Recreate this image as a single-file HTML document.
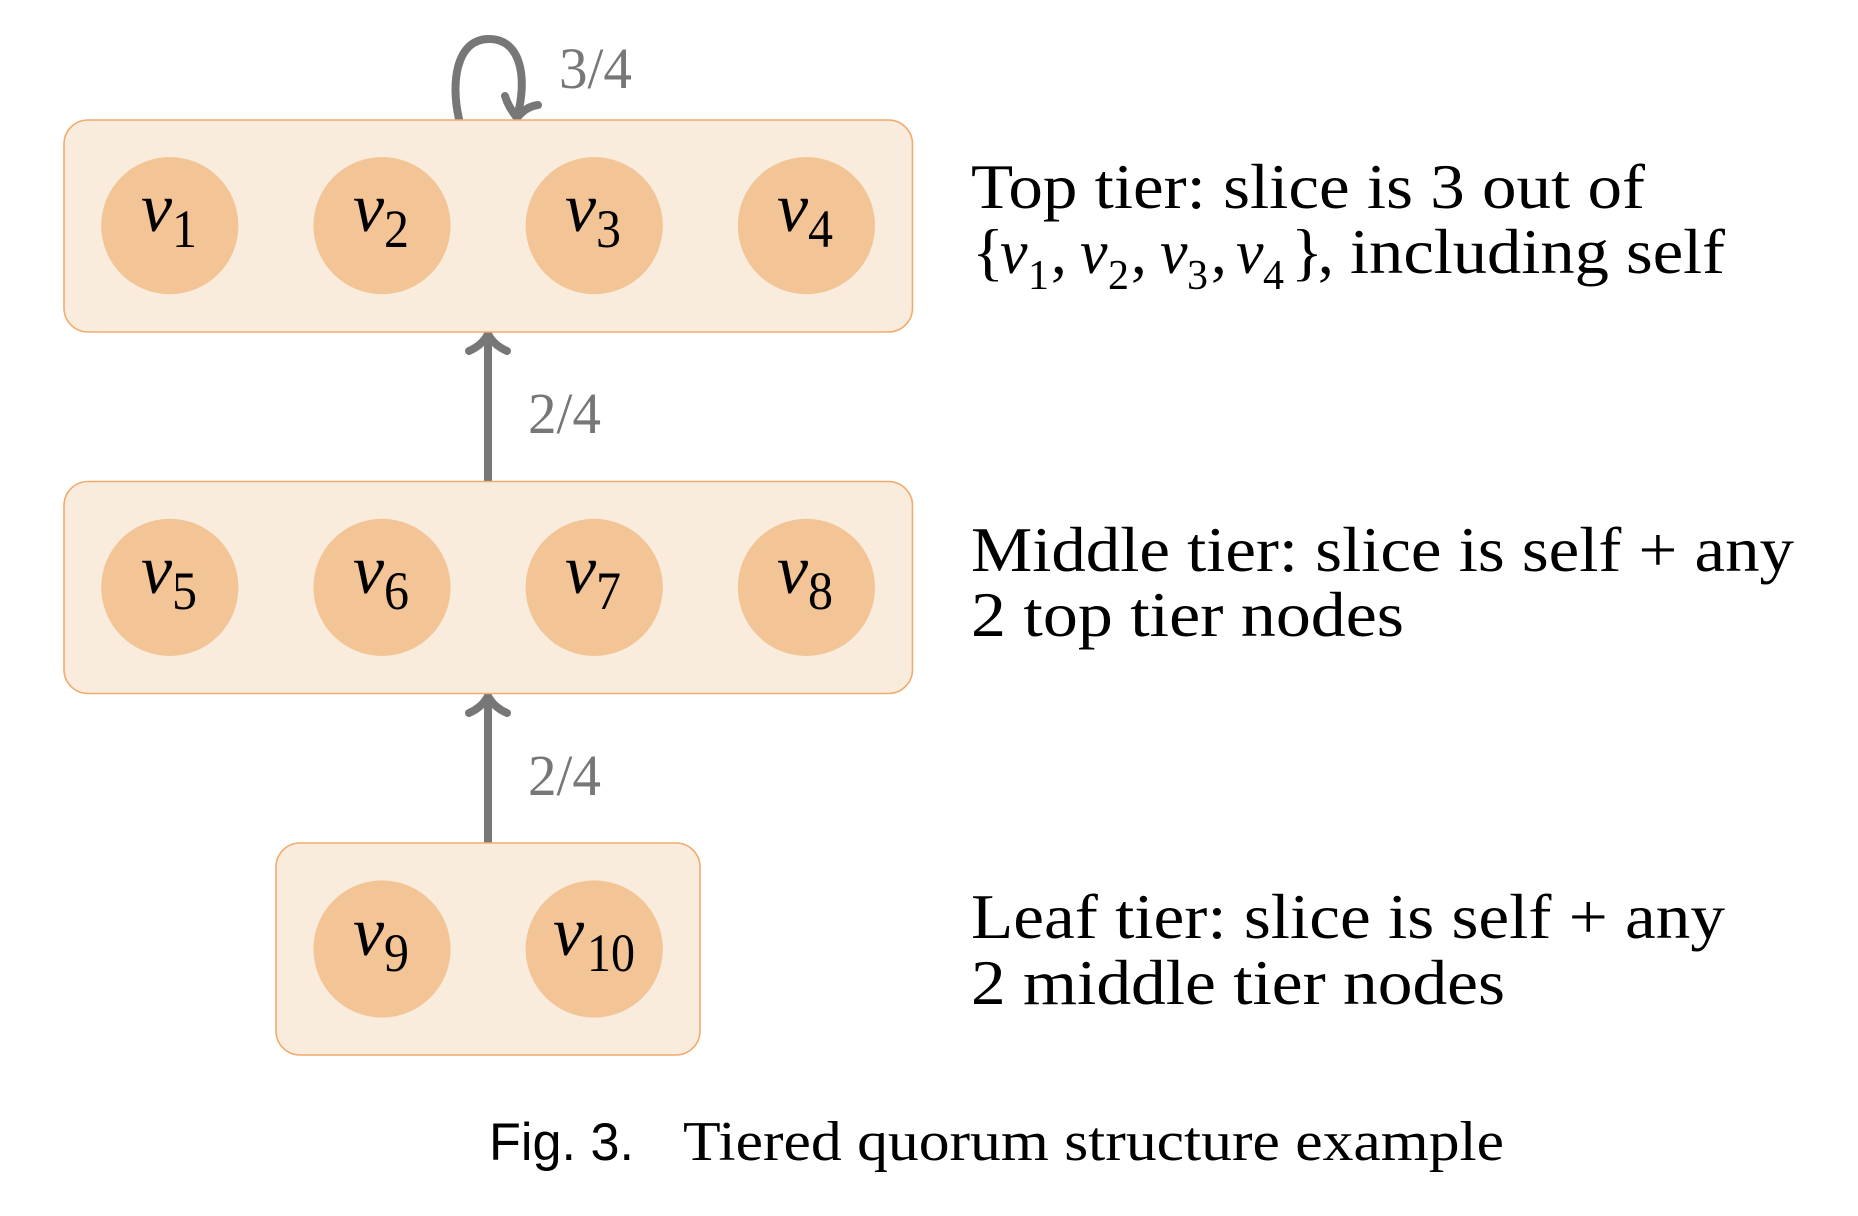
<!DOCTYPE html>
<html lang="en">
<head>
<meta charset="utf-8">
<title>Tiered quorum structure example</title>
<style>
html,body{margin:0;padding:0;background:#fff;}
svg{display:block;}
text{font-family:"Liberation Serif",serif;}
.t{font-size:63px;fill:#000;}
.v{font-size:70px;font-style:italic;fill:#000;}
.s{font-size:54px;fill:#000;}
.mv{font-size:62px;font-style:italic;fill:#000;}
.ms{font-size:42px;fill:#000;}
.l{font-size:58px;fill:#777;}
.box{fill:#f9ecdd;stroke:#f0ab6e;stroke-width:1.6;}
.node{fill:#f2c496;}
.edge{fill:none;stroke:#777;stroke-width:8;stroke-linecap:round;stroke-linejoin:round;}
</style>
</head>
<body>
<svg width="1858" height="1216" viewBox="0 0 1858 1216" xmlns="http://www.w3.org/2000/svg">
<rect width="1858" height="1216" fill="#fff"/>

<g>
<path class="edge" stroke-linecap="butt" d="M459 119 C451 85 455 39 489 39 C523 39 527 82 517 117"/>
<path class="edge" d="M505 96 C508 106 513 112 517 118 C523 110 530 106 538 105"/>
</g>
<text class="l" x="559" y="88" textLength="73" lengthAdjust="spacingAndGlyphs">3/4</text>

<g>
<line class="edge" stroke-linecap="butt" x1="488" y1="481" x2="488" y2="336"/>
<path class="edge" d="M469 351 C478 347 484 342 488 334 C492 342 498 347 507 351"/>
</g>
<text class="l" x="528" y="433" textLength="73" lengthAdjust="spacingAndGlyphs">2/4</text>

<g>
<line class="edge" stroke-linecap="butt" x1="488" y1="843" x2="488" y2="698"/>
<path class="edge" d="M469 713 C478 709 484 704 488 696 C492 704 498 709 507 713"/>
</g>
<text class="l" x="528" y="795" textLength="73" lengthAdjust="spacingAndGlyphs">2/4</text>

<g>
<rect class="box" x="64" y="120" width="848.5" height="212" rx="24" ry="24"/>
<g><circle class="node" cx="169.8" cy="225.6" r="68.6"/><text class="v" x="141" y="231">v</text><text class="s" x="172" y="247" textLength="25" lengthAdjust="spacingAndGlyphs">1</text></g>
<g><circle class="node" cx="382" cy="225.6" r="68.6"/><text class="v" x="353" y="231">v</text><text class="s" x="384" y="247" textLength="25" lengthAdjust="spacingAndGlyphs">2</text></g>
<g><circle class="node" cx="594.2" cy="225.6" r="68.6"/><text class="v" x="565" y="231">v</text><text class="s" x="596" y="247" textLength="25" lengthAdjust="spacingAndGlyphs">3</text></g>
<g><circle class="node" cx="806.4" cy="225.6" r="68.6"/><text class="v" x="777" y="231">v</text><text class="s" x="808" y="247" textLength="25" lengthAdjust="spacingAndGlyphs">4</text></g>
</g>

<g>
<rect class="box" x="64" y="481.5" width="848.5" height="212" rx="24" ry="24"/>
<g><circle class="node" cx="169.8" cy="587.4" r="68.6"/><text class="v" x="141" y="593">v</text><text class="s" x="172" y="609" textLength="25" lengthAdjust="spacingAndGlyphs">5</text></g>
<g><circle class="node" cx="382" cy="587.4" r="68.6"/><text class="v" x="353" y="593">v</text><text class="s" x="384" y="609" textLength="25" lengthAdjust="spacingAndGlyphs">6</text></g>
<g><circle class="node" cx="594.2" cy="587.4" r="68.6"/><text class="v" x="565" y="593">v</text><text class="s" x="596" y="609" textLength="25" lengthAdjust="spacingAndGlyphs">7</text></g>
<g><circle class="node" cx="806.4" cy="587.4" r="68.6"/><text class="v" x="777" y="593">v</text><text class="s" x="808" y="609" textLength="25" lengthAdjust="spacingAndGlyphs">8</text></g>
</g>

<g>
<rect class="box" x="276" y="843" width="424" height="212" rx="24" ry="24"/>
<g><circle class="node" cx="382" cy="949" r="68.6"/><text class="v" x="353" y="955">v</text><text class="s" x="384" y="971" textLength="25" lengthAdjust="spacingAndGlyphs">9</text></g>
<g><circle class="node" cx="594.2" cy="949" r="68.6"/><text class="v" x="553" y="955">v</text><text class="s" x="587" y="971" textLength="48" lengthAdjust="spacingAndGlyphs">10</text></g>
</g>

<g>
<text class="t" x="971" y="208" textLength="674" lengthAdjust="spacingAndGlyphs">Top tier: slice is 3 out of</text>
<text class="t" x="972" y="273" textLength="32" lengthAdjust="spacingAndGlyphs">{</text>
<text class="mv" x="1000" y="273">v</text><text class="ms" x="1028" y="289">1</text><text class="t" x="1051" y="273">,</text>
<text class="mv" x="1080" y="273">v</text><text class="ms" x="1108" y="289">2</text><text class="t" x="1131" y="273">,</text>
<text class="mv" x="1160" y="273">v</text><text class="ms" x="1187" y="289">3</text><text class="t" x="1211" y="273">,</text>
<text class="mv" x="1236" y="273">v</text><text class="ms" x="1263" y="289">4</text>
<text class="t" x="1291" y="273" textLength="32" lengthAdjust="spacingAndGlyphs">}</text><text class="t" x="1318" y="273">,</text>
<text class="t" x="1350" y="273" textLength="375" lengthAdjust="spacingAndGlyphs">including self</text>
</g>

<g>
<text class="t" x="971" y="571" textLength="823" lengthAdjust="spacingAndGlyphs">Middle tier: slice is self + any</text>
<text class="t" x="971" y="636" textLength="433" lengthAdjust="spacingAndGlyphs">2 top tier nodes</text>
</g>

<g>
<text class="t" x="971" y="938" textLength="754" lengthAdjust="spacingAndGlyphs">Leaf tier: slice is self + any</text>
<text class="t" x="971" y="1004" textLength="534" lengthAdjust="spacingAndGlyphs">2 middle tier nodes</text>
</g>

<g>
<text x="489" y="1160" font-size="53" textLength="145" lengthAdjust="spacingAndGlyphs" style="font-family:'Liberation Sans',sans-serif" fill="#000">Fig. 3.</text>
<text x="683" y="1160" font-size="56" textLength="821" lengthAdjust="spacingAndGlyphs" fill="#000">Tiered quorum structure example</text>
</g>
</svg>
</body>
</html>
